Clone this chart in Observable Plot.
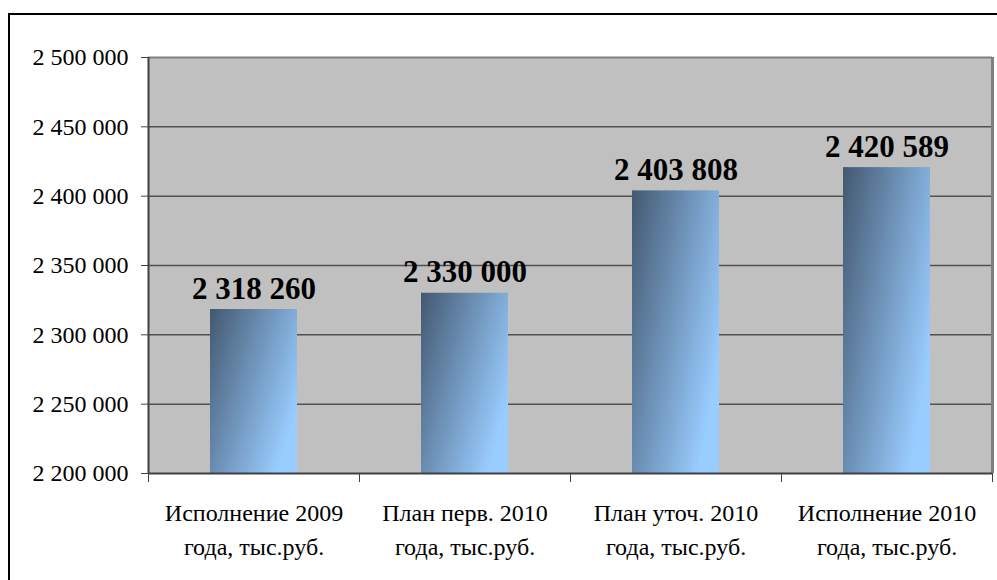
<!DOCTYPE html>
<html><head><meta charset="utf-8">
<script src="https://cdn.jsdelivr.net/npm/d3@7"></script>
<script src="https://cdn.jsdelivr.net/npm/@observablehq/plot@0.6"></script>
<style>
html,body{margin:0;padding:0;background:#fff;width:997px;height:580px;overflow:hidden;}
#wrap{position:relative;width:997px;height:580px;overflow:hidden;}
#border{position:absolute;left:8px;top:13px;width:1000px;height:600px;border-top:2px solid #000;border-left:2px solid #000;}
#chart{position:absolute;left:0;top:0;}
</style></head><body>
<div id="wrap"><div id="border"></div><div id="chart"></div></div>
<script>
const categories = ["Исполнение 2009\nгода, тыс.руб.", "План перв. 2010\nгода, тыс.руб.", "План уточ. 2010\nгода, тыс.руб.", "Исполнение 2010\nгода, тыс.руб."];
const values = [2318260, 2330000, 2403808, 2420589];
const valueLabels = ["2 318 260", "2 330 000", "2 403 808", "2 420 589"];
const yTicks = [2200000, 2250000, 2300000, 2350000, 2400000, 2450000, 2500000];
const yTickLabels = ["2 200 000", "2 250 000", "2 300 000", "2 350 000", "2 400 000", "2 450 000", "2 500 000"];

const data = categories.map((c, i) => ({i, category: c, value: values[i], label: valueLabels[i]}));
const yMin = yTicks[0], yMax = yTicks[yTicks.length - 1];
const serif = "'Liberation Serif', 'Times New Roman', Tinos, 'DejaVu Serif', serif";

const defs = () => {
  const d = d3.create("svg:defs");
  const g = d.append("linearGradient").attr("id", "barGrad")
    .attr("x1", 0).attr("y1", 0).attr("x2", 1).attr("y2", 0.6);
  g.append("stop").attr("offset", 0).attr("stop-color", "#435870");
  g.append("stop").attr("offset", 1).attr("stop-color", "#99ccff");
  return d.node();
};

const chart = Plot.plot({
  width: 997, height: 580,
  marginLeft: 148, marginRight: 5, marginTop: 57, marginBottom: 107,
  style: {background: "transparent", overflow: "visible", color: "#000"},
  x: {type: "linear", domain: [0, categories.length], axis: null},
  y: {domain: [yMin, yMax], axis: null},
  marks: [
    defs,
    Plot.frame({fill: "#c0c0c0", stroke: null}),
    Plot.ruleY(yTicks.slice(1, -1), {stroke: "#505050", strokeWidth: 1.5}),
    Plot.ruleY([yMax], {stroke: "#808080", strokeWidth: 2}),
    Plot.ruleX([categories.length], {stroke: "#808080", strokeWidth: 3}),
    Plot.rect(data, {x1: d => d.i, x2: d => d.i + 1, y1: yMin, y2: "value", insetLeft: 62, insetRight: 62, fill: "url(#barGrad)"}),
    Plot.ruleX([0], {stroke: "#404040", strokeWidth: 2}),
    Plot.ruleY([yMin], {stroke: "#404040", strokeWidth: 2}),
    Plot.axisY({ticks: yTicks, tickFormat: v => yTickLabels[yTicks.indexOf(v)], label: null, tickSize: 7, tickPadding: 13, fontSize: 24, fontFamily: serif, stroke: "#404040", fill: "#000"}),
    Plot.axisX({ticks: d3.range(categories.length + 1), tickFormat: () => "", label: null, tickSize: 9, stroke: "#404040"}),
    Plot.axisX({ticks: data.map(d => d.i + 0.5), tickFormat: v => categories[Math.floor(v)], label: null, tickSize: 0, tickPadding: 24, lineHeight: 1.4, fontSize: 24, fontFamily: serif, fill: "#000"}),
    Plot.text(data, {x: d => d.i + 0.5, y: "value", text: "label", dy: -11, lineAnchor: "bottom", fontSize: 31, fontWeight: "bold", fontFamily: serif, fill: "#000"})
  ]
});
document.getElementById("chart").appendChild(chart);
</script>
</body></html>
